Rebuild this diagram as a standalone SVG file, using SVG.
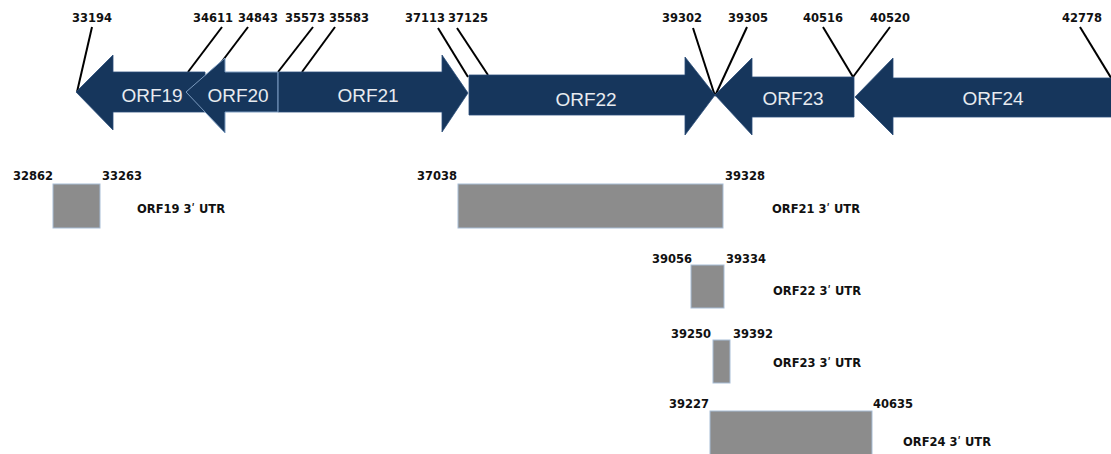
<svg xmlns="http://www.w3.org/2000/svg" width="1111" height="454" viewBox="0 0 1111 454">
<style>
.orf{fill:#16365c;stroke:#2a4d78;stroke-width:0.8}
.orf20{fill:#16365c;stroke:#7d9cc0;stroke-width:1}
.ol{font-family:"Liberation Sans",Arial,sans-serif;font-size:19px;fill:#e8ebf0;text-anchor:middle}
.num{font-family:"DejaVu Sans",sans-serif;font-weight:bold;font-size:11.5px;fill:#111}
.utr{font-family:"DejaVu Sans",sans-serif;font-weight:bold;font-size:11.5px;fill:#111}
.box{fill:#8c8c8c;stroke:#a7bdd6;stroke-width:1}
.lead{stroke:#000;stroke-width:2;fill:none}
</style>
<rect width="1111" height="454" fill="#fff"/>
<g id="connectors">
<line class="lead" x1="92" y1="27" x2="77" y2="92"/>
<line class="lead" x1="222" y1="27" x2="188" y2="72"/>
<line class="lead" x1="248" y1="27" x2="214" y2="72"/>
<line class="lead" x1="313" y1="27" x2="278" y2="72"/>
<line class="lead" x1="335" y1="27" x2="302" y2="72"/>
<line class="lead" x1="438" y1="28" x2="468" y2="77"/>
<line class="lead" x1="457" y1="28" x2="488" y2="75"/>
<line class="lead" x1="693" y1="28" x2="715" y2="96"/>
<line class="lead" x1="747" y1="27" x2="715" y2="96"/>
<line class="lead" x1="823" y1="27" x2="853" y2="77"/>
<line class="lead" x1="890" y1="27" x2="853" y2="77"/>
<line class="lead" x1="1080" y1="27" x2="1113" y2="81"/>
</g>
<g id="ORF19">
<polygon class="orf" points="76,92 113,55 113,72 205,72 205,112 113,112 113,130"/>
<text class="ol" x="152" y="102">ORF19</text>
</g>
<g id="ORF20">
<polygon class="orf20" points="186,92 225,58 225,72 278,72 278,112 225,112 225,133"/>
<text class="ol" x="238" y="102">ORF20</text>
</g>
<g id="ORF21">
<polygon class="orf" points="278,72 442,72 442,55 468,93 442,132 442,112 278,112"/>
<line x1="278" y1="72" x2="278" y2="112" stroke="#7d9cc0" stroke-width="1"/>
<text class="ol" x="368" y="102">ORF21</text>
</g>
<g id="ORF22">
<polygon class="orf" points="469,75 685,75 685,57 715,95 685,135 685,115 469,115"/>
<text class="ol" x="586" y="106">ORF22</text>
</g>
<g id="ORF23">
<polygon class="orf" points="715,95 752,58 752,77 854,77 854,117 752,117 752,135"/>
<text class="ol" x="793" y="105">ORF23</text>
</g>
<g id="ORF24">
<polygon class="orf" points="855,97 893,58 893,78 1112,78 1112,117 893,117 893,135"/>
<text class="ol" x="993" y="105">ORF24</text>
</g>
<g id="top-labels">
<text class="num" x="72" y="22">33194</text>
<text class="num" x="193" y="22">34611</text>
<text class="num" x="238" y="22">34843</text>
<text class="num" x="285" y="22">35573</text>
<text class="num" x="329" y="22">35583</text>
<text class="num" x="405" y="22">37113</text>
<text class="num" x="448" y="22">37125</text>
<text class="num" x="662" y="22">39302</text>
<text class="num" x="728" y="22">39305</text>
<text class="num" x="803" y="22">40516</text>
<text class="num" x="870" y="22">40520</text>
<text class="num" x="1062" y="22">42778</text>
</g>
<g id="UTR19">
<rect class="box" x="53" y="184" width="47" height="44"/>
<text class="num" x="13" y="180">32862</text>
<text class="num" x="102" y="180">33263</text>
<text class="utr" x="137" y="213">ORF19 3ʹ UTR</text>
</g>
<g id="UTR21">
<rect class="box" x="458" y="184" width="265" height="44"/>
<text class="num" x="417" y="180">37038</text>
<text class="num" x="725" y="180">39328</text>
<text class="utr" x="772" y="213">ORF21 3ʹ UTR</text>
</g>
<g id="UTR22">
<rect class="box" x="691" y="265" width="33" height="43"/>
<text class="num" x="652" y="263">39056</text>
<text class="num" x="726" y="263">39334</text>
<text class="utr" x="773" y="295">ORF22 3ʹ UTR</text>
</g>
<g id="UTR23">
<rect class="box" x="713" y="340" width="17" height="43"/>
<text class="num" x="671" y="338">39250</text>
<text class="num" x="733" y="338">39392</text>
<text class="utr" x="773" y="367">ORF23 3ʹ UTR</text>
</g>
<g id="UTR24">
<rect class="box" x="710" y="411" width="162" height="45"/>
<text class="num" x="669" y="408">39227</text>
<text class="num" x="873" y="408">40635</text>
<text class="utr" x="903" y="446">ORF24 3ʹ UTR</text>
</g>
</svg>
